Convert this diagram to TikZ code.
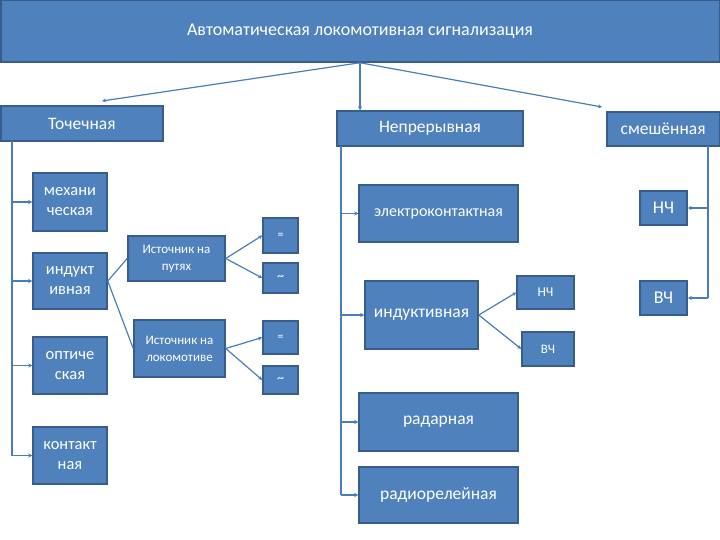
\documentclass[tikz,border=0pt]{standalone}
\usepackage{fontspec}
\setmainfont{Carlito}
\usetikzlibrary{arrows.meta,calc}
\definecolor{boxfill}{HTML}{4F81BD}
\definecolor{boxedge}{HTML}{385D8A}
\definecolor{linkc}{HTML}{4A7EBB}
\tikzset{
  box/.style={draw=boxedge, fill=boxfill, line width=1.5pt, text=white, inner sep=0pt, align=center, font=\fontsize{17.5}{21}\selectfont},
  link/.style={draw=linkc, line width=1.2pt},
  arr/.style={link, -{Stealth[length=4pt,width=4pt]}},
}
\newcommand{\bx}[6]{%
  \pgfmathsetmacro{\bw}{#4-#2}\pgfmathsetmacro{\bh}{#5-#3}%
  \pgfmathsetmacro{\bcx}{(#2+#4)/2}\pgfmathsetmacro{\bcy}{(#3+#5)/2}%
  \node[box,minimum width=\bw pt,minimum height=\bh pt,#6] (#1) at (\bcx,\bcy)}
\begin{document}
\begin{tikzpicture}[x=1pt,y=-1pt]
\useasboundingbox (0,0) rectangle (720,540);
\bx{top}{0.75}{0.75}{719.25}{62}{font=\fontsize{18}{21}\selectfont}{Автоматическая локомотивная сигнализация};
\bx{toch}{0.75}{106}{163}{141}{}{Точечная};
\bx{nepr}{337}{111}{523}{146}{}{Непрерывная};
\bx{smesh}{607}{112}{719.25}{146}{}{смешённая};
\bx{mech}{33}{173}{107}{231}{font=\fontsize{16.5}{20}\selectfont}{механи\\ческая};
\bx{ind}{33}{253}{107}{309}{font=\fontsize{16.5}{20}\selectfont}{индукт\\ивная};
\bx{opt}{33}{337}{107}{394}{font=\fontsize{16.5}{20}\selectfont}{оптиче\\ская};
\bx{kont}{33}{427}{107}{484}{font=\fontsize{16.5}{20}\selectfont}{контакт\\ная};
\bx{src1}{128}{236}{225}{281}{font=\fontsize{13}{17}\selectfont}{Источник на\\путях};
\bx{src2}{134}{320}{225}{377}{font=\fontsize{13}{17}\selectfont}{Источник на\\локомотиве};
\bx{eq1}{263}{218}{298}{253}{font=\fontsize{12}{13}\selectfont}{=};
\bx{ti1}{263}{263}{298}{293}{font=\fontsize{14}{13}\selectfont}{\textasciitilde};
\bx{eq2}{263}{321}{298}{354}{font=\fontsize{12}{13}\selectfont}{=};
\bx{ti2}{263}{366}{298}{394}{font=\fontsize{14}{13}\selectfont}{\textasciitilde};
\bx{elk}{359}{185}{518}{242}{font=\fontsize{16}{20}\selectfont}{электроконтактная};
\bx{indk}{365}{281}{478}{349}{}{индуктивная};
\bx{nch1}{517}{276}{574}{309}{font=\fontsize{13.5}{16}\selectfont}{НЧ};
\bx{vch1}{522}{332}{574}{366}{font=\fontsize{13}{16}\selectfont}{ВЧ};
\bx{rad}{359}{393}{518}{451}{}{радарная};
\bx{radrel}{359}{467}{518}{523}{}{радиорелейная};
\bx{nch2}{640}{191}{687}{225}{font=\fontsize{18}{20}\selectfont}{НЧ};
\bx{vch2}{640}{281}{687}{315}{font=\fontsize{18}{20}\selectfont}{ВЧ};
% top connectors
\coordinate (tA) at (102,101);
\coordinate (tC) at (602,107);
\draw[arr] (top.south) -- (tA);
\draw[arr] (top.south) -- (top.south |- nepr.north);
\draw[arr] (top.south) -- (tC);
% left trunk
\coordinate (lt) at (12,141);
\draw[link] (lt) -- (lt |- kont.west);
\foreach \n in {mech,ind,opt,kont} \draw[arr] (lt |- \n.west) -- (\n.west);
\draw[link] (ind.east) -- (src1.west);
\draw[link] (ind.east) -- (src2.west);
\foreach \a/\b in {src1/eq1,src1/ti1,src2/eq2,src2/ti2} \draw[arr] (\a.east) -- (\b.west);
% middle trunk
\coordinate (mt) at (341,146);
\draw[link] (mt) -- (mt |- radrel.west);
\foreach \n in {elk,indk,rad,radrel} \draw[arr] (mt |- \n.west) -- (\n.west);
\draw[arr] (indk.east) -- (nch1.west);
\draw[arr] (indk.east) -- (vch1.west);
% right trunk
\coordinate (rt) at (708,146);
\draw[link] (rt) -- (rt |- vch2.east);
\foreach \n in {nch2,vch2} \draw[arr] (rt |- \n.east) -- (\n.east);
\end{tikzpicture}
\end{document}
